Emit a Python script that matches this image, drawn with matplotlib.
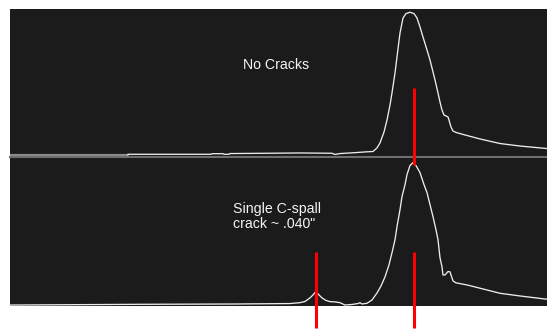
import matplotlib
matplotlib.use("Agg")
import matplotlib.pyplot as plt

plt.rcParams['font.family'] = ['Liberation Sans', 'DejaVu Sans']

BG = '#1b1b1b'
TRACE = '#ececec'
RED = '#ff0000'

# Trace samples (time axis) and amplitudes in % of screen height
top_x = [0, 118, 118, 201, 202, 213, 214, 219, 220, 258, 290, 322, 325, 330,
         340, 347, 355, 363, 367, 370, 374, 377, 380, 382, 385, 387, 390, 393,
         396, 400, 404, 407, 410, 413, 417, 420, 423, 425, 428, 430, 432, 434,
         436, 438, 439, 441, 443, 446, 455, 470, 490, 510, 537]
top_y = [1.0, 1.0, 1.5, 1.5, 1.9, 1.9, 1.5, 1.5, 2.0, 2.2, 2.4, 2.2, 1.4, 2.0,
         2.4, 2.7, 3.1, 3.4, 5.8, 9.2, 16.6, 24.7, 34.9, 43.1, 56.6, 67.5, 83.7,
         93.9, 96.9, 97.8, 96.9, 93.9, 87.8, 81.0, 72.2, 65.4, 57.3, 51.9, 43.1,
         36.9, 31.5, 28.1, 27.5, 26.8, 24.7, 20.0, 17.3, 16.3, 14.6, 11.9, 8.8,
         7.1, 5.4]

bot_x = [0, 130, 225, 280, 290, 295, 300, 303, 306, 309, 312, 316, 320, 325,
         330, 335, 342, 348, 350, 352, 357, 362, 367, 371, 375, 379, 382, 385,
         387, 390, 392, 395, 397, 400, 403, 406, 410, 414, 417, 420, 423, 426,
         428, 430, 432, 433, 435, 438, 440, 443, 446, 457, 470, 490, 510, 537]
bot_y = [0.3, 0.8, 1.0, 1.3, 1.9, 2.7, 5.1, 7.1, 9.4, 7.1, 5.1, 3.4, 2.6, 2.4,
         1.9, 0.3, 0.7, 1.3, 1.9, 1.0, 1.5, 3.7, 8.4, 13.1, 19.2, 27.3, 35.4,
         44.1, 52.9, 64.3, 73.1, 81.0, 87.9, 93.9, 95.9, 93.9, 89.2, 81.1, 75.8,
         67.7, 59.6, 50.8, 44.1, 32.0, 25.9, 20.5, 20.5, 22.8, 22.6, 16.5, 15.2,
         13.8, 11.6, 8.2, 6.4, 4.2]

# Gate markers (sample position, start %, end %)
top_gate_x = [403.7]
top_gate_y = (46.4, -5.8)
bot_gate_x = [306, 403.7]
bot_gate_y = (36.0, -15.2)

labels = ["No Cracks", "Single C-spall\ncrack ~ .040\""]

fig = plt.figure(figsize=(5.47, 3.30), dpi=100)
fig.patch.set_facecolor('white')

ax_top = fig.add_axes([10 / 547, 173.5 / 330, 537 / 547, 147.5 / 330])
ax_bot = fig.add_axes([10 / 547, 24.5 / 330, 537 / 547, 149 / 330])
ax_top.set_zorder(2)

for ax in (ax_top, ax_bot):
    ax.set_facecolor(BG)
    ax.set_xlim(0, 537)
    ax.set_ylim(0, 100)
    ax.set_xticks([])
    ax.set_yticks([])
    for s in ax.spines.values():
        s.set_visible(False)

# grey separator between the two screens
ax_top.spines['bottom'].set_visible(True)
ax_top.spines['bottom'].set_color('#6e6e6e')
ax_top.spines['bottom'].set_linewidth(1.5)

ax_top.plot(top_x[:2], top_y[:2], color='#8a8a8a', lw=1.6, solid_capstyle='butt')
ax_top.plot(top_x[1:], top_y[1:], color=TRACE, lw=0.95)
ax_bot.plot(bot_x, bot_y, color=TRACE, lw=0.95)

ax_top.vlines(top_gate_x, *top_gate_y, color=RED, lw=2.2, clip_on=False, zorder=5)
ax_bot.vlines(bot_gate_x, *bot_gate_y, color=RED, lw=2.2, clip_on=False, zorder=5)

ax_top.text(266, 62, labels[0], color='#f5f5f5', fontsize=10.2,
            ha='center', va='center')
ax_bot.text(267, 59.6, labels[1], color='#f5f5f5', fontsize=10.2,
            ha='center', va='center', multialignment='left', linespacing=1.05)

fig.savefig('out.png', dpi=100, facecolor=fig.get_facecolor())
